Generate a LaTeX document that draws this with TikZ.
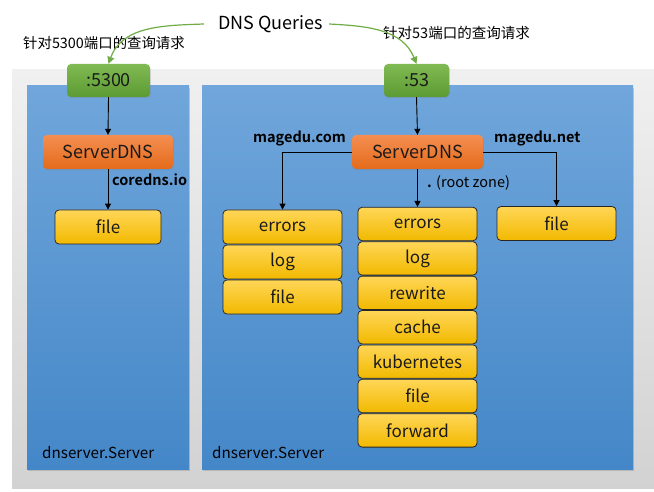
\documentclass[tikz,border=0pt]{standalone}
\usepackage{fontspec}
\setmainfont{Noto Sans CJK SC}[BoldFont={Noto Sans CJK SC Bold}]
\usetikzlibrary{arrows.meta,shadows}
\definecolor{gband1}{HTML}{F0F0F0}
\definecolor{gband2}{HTML}{D2D2D2}
\definecolor{blue1}{HTML}{70A6DB}
\definecolor{blue2}{HTML}{4487C8}
\definecolor{green1}{HTML}{80BA52}
\definecolor{green2}{HTML}{5C9A33}
\definecolor{orange1}{HTML}{F58E52}
\definecolor{orange2}{HTML}{E46B1A}
\definecolor{yellow1}{HTML}{FFD657}
\definecolor{yellow2}{HTML}{F2B900}
\definecolor{arrowgreen}{HTML}{70AD47}
\definecolor{boxtext}{HTML}{1A1A1A}
\tikzset{
  panel/.style={draw=none, top color=blue1, bottom color=blue2, inner sep=0pt,
    drop shadow={shadow xshift=1pt, shadow yshift=-2pt, opacity=0.35}},
  portbox/.style={rounded corners=4pt, top color=green1, bottom color=green2, inner sep=0pt,
    font=\fontsize{18}{20}\selectfont, text=boxtext,
    drop shadow={shadow xshift=0.8pt, shadow yshift=-1.2pt, opacity=0.3}},
  srvbox/.style={rounded corners=4pt, top color=orange1, bottom color=orange2, inner sep=0pt,
    minimum height=34pt, font=\fontsize{18}{20}\selectfont, text=boxtext,
    drop shadow={shadow xshift=0.8pt, shadow yshift=-1.2pt, opacity=0.3}},
  plug/.style={draw=black!85, line width=0.8pt, rounded corners=4pt, top color=yellow1, bottom color=yellow2,
    inner sep=0pt, font=\fontsize{17}{19}\selectfont, text=boxtext},
  lbl/.style={font=\bfseries\fontsize{14.5}{16}\selectfont, text=black, inner sep=0pt},
  conn/.style={draw=black, line width=0.9pt, -{Triangle[length=6pt,width=6pt]}},
  qarrow/.style={draw=arrowgreen, line width=1.2pt, -{Triangle[length=7pt,width=7pt]}},
}
\begin{document}
\begin{tikzpicture}[x=1pt,y=-1pt]
\useasboundingbox (0,0) rectangle (654,492);
\fill[white] (0,0) rectangle (654,492);
% gray band
\shade[top color=gband1, bottom color=gband2] (12,70) rectangle (654,488);
% panels
\node[panel, minimum width=162pt, minimum height=383pt] (panelL) at (108,277.5) {};
\node[panel, minimum width=431pt, minimum height=383pt] (panelR) at (417.5,277.5) {};
\node[font=\fontsize{15.2}{17}\selectfont, anchor=west, inner sep=0pt] (srvL) at (42,453) {dnserver.Server};
\node[font=\fontsize{15.2}{17}\selectfont, anchor=west, inner sep=0pt] (srvR) at (212,453) {dnserver.Server};
% top texts
\node[font=\fontsize{18}{20}\selectfont, inner sep=0pt] (q) at (270.5,24) {DNS Queries};
\node[font=\fontsize{14.4}{16}\selectfont, anchor=west, inner sep=0pt] (c1) at (23,43) {针对5300端口的查询请求};
\node[font=\fontsize{14.5}{16}\selectfont, anchor=west, inner sep=0pt] (c2) at (383,33) {针对53端口的查询请求};
% port boxes
\node[portbox, minimum width=83pt, minimum height=33pt] (p5300) at (108.5,80.5) {:5300};
\node[portbox, minimum width=65pt, minimum height=33pt] (p53) at (416.5,80.5) {:53};
% server boxes
\node[srvbox, minimum width=130pt] (sdL) at (108,152) {ServerDNS};
\node[srvbox, minimum width=131pt] (sdR) at (417.5,152) {ServerDNS};
% left panel plugin
\node[plug, minimum width=106pt, minimum height=34pt] (fL) at (108,227) {file};
% left column
\node[plug, minimum width=119pt, minimum height=34pt] (a1) at (282.5,227) {errors};
\node[plug, minimum width=119pt, minimum height=34pt] (a2) at (282.5,262) {log};
\node[plug, minimum width=119pt, minimum height=34pt] (a3) at (282.5,297) {file};
% middle column
\node[plug, minimum width=119pt, minimum height=33.4pt] (b1) at (417.5,224) {errors};
\node[plug, minimum width=119pt, minimum height=33.4pt] (b2) at (417.5,258.4) {log};
\node[plug, minimum width=119pt, minimum height=33.4pt] (b3) at (417.5,292.8) {rewrite};
\node[plug, minimum width=119pt, minimum height=33.4pt] (b4) at (417.5,327.2) {cache};
\node[plug, minimum width=119pt, minimum height=33.4pt] (b5) at (417.5,361.6) {kubernetes};
\node[plug, minimum width=119pt, minimum height=33.4pt] (b6) at (417.5,396) {file};
\node[plug, minimum width=119pt, minimum height=33.4pt] (b7) at (417.5,430.4) {forward};
% right column
\node[plug, minimum width=119pt, minimum height=34pt] (c1f) at (556.5,223.5) {file};
% labels
\node[lbl, anchor=west] (lc) at (112,180) {coredns.io};
\node[lbl, anchor=west] (lm) at (253,138) {magedu.com};
\node[lbl, anchor=west] (ln) at (494,138) {magedu.net};
\node[font=\fontsize{14.5}{16}\selectfont, anchor=west, inner sep=0pt] (lr) at (427,183) {\textbf{.} (root zone)};
% connectors
\draw[conn] (p5300.south) -- (sdL.north);
\draw[conn] (sdL.south) -- (fL.north);
\draw[conn] (p53.south) -- (sdR.north);
\draw[conn] (sdR.south) -- (b1.north);
\draw[conn] (sdR.west) -| (a1.north);
\draw[conn] (sdR.east) -| (c1f.north);
% query arrows
\draw[qarrow] ([xshift=-14pt]q.west) to[out=182,in=70] (p5300.north);
\draw[qarrow] ([xshift=6pt]q.east) to[out=-3,in=112] (p53.north);
\end{tikzpicture}
\end{document}
